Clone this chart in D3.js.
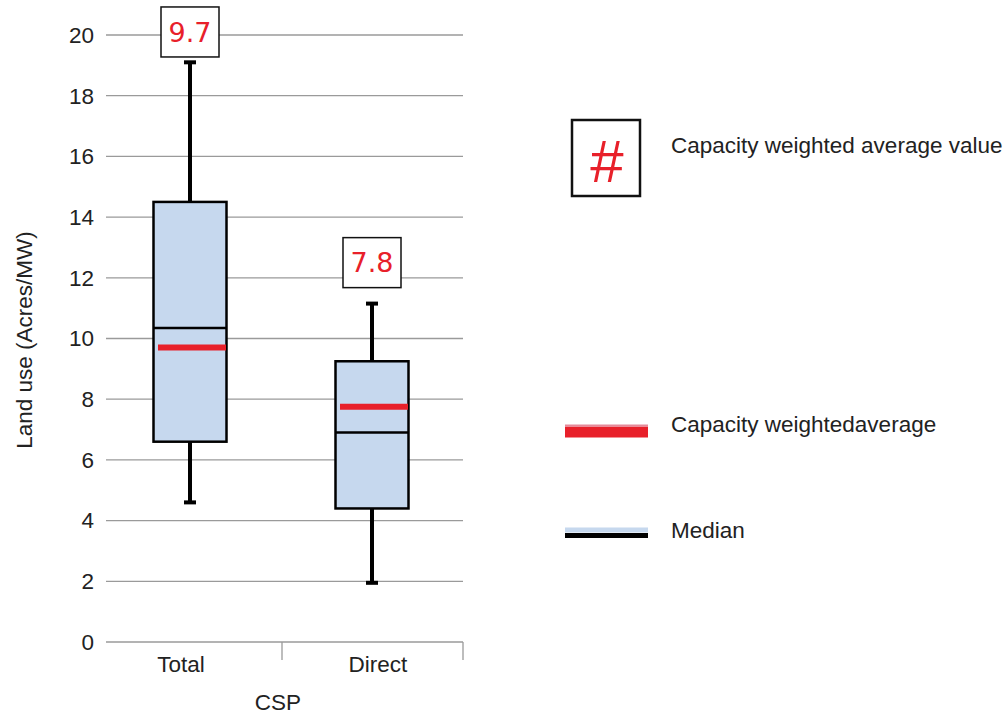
<!DOCTYPE html>
<html>
<head>
<meta charset="utf-8">
<script src="https://cdn.jsdelivr.net/npm/d3@7"></script>
<style>
  body { margin: 0; background: #fff; }
  text { font-family: "Liberation Sans", Arial, sans-serif; }
</style>
</head>
<body>
<div id="chart"></div>
<script>
var categories = ["Total", "Direct"];
var whiskerLow = [4.6, 1.95];
var boxLow = [6.6, 4.4];
var medians = [10.35, 6.9];
var boxHigh = [14.5, 9.25];
var whiskerHigh = [19.1, 11.15];
var weightedAvg = [9.7, 7.75];
var avgLabels = ["9.7", "7.8"];
var avgLabelAt = [20.1, 12.5];
var yTicks = [0, 2, 4, 6, 8, 10, 12, 14, 16, 18, 20];

var width = 1007,
    height = 717;

var svg = d3.select("#chart")
    .append("svg")
    .attr("width", width)
    .attr("height", height);

var y = d3.scaleLinear().domain([0, 20]).range([642, 35]);
var x = d3.scalePoint().domain(categories).range([190, 372]);
var labelX = d3.scalePoint().domain(categories).range([181, 378]);

// gridlines
svg.append("g").selectAll("line")
    .data(yTicks)
    .enter().append("line")
    .attr("x1", 106).attr("x2", 463)
    .attr("y1", function(d) { return y(d); })
    .attr("y2", function(d) { return y(d); })
    .style("stroke", "#9a9a9a")
    .style("stroke-width", 1.3);

// y tick labels
svg.append("g").selectAll("text")
    .data(yTicks)
    .enter().append("text")
    .attr("x", 94)
    .attr("y", function(d) { return y(d); })
    .attr("dy", "0.35em")
    .attr("text-anchor", "end")
    .style("font-size", "22.5px")
    .style("fill", "#222")
    .text(function(d) { return d; });

// x axis separators
svg.append("g").selectAll("line")
    .data([282, 463])
    .enter().append("line")
    .attr("x1", function(d) { return d; })
    .attr("x2", function(d) { return d; })
    .attr("y1", 642).attr("y2", 660)
    .style("stroke", "#9a9a9a")
    .style("stroke-width", 1.3);

svg.append("g").selectAll("text")
    .data(categories)
    .enter().append("text")
    .attr("x", function(d) { return labelX(d); })
    .attr("y", 672)
    .attr("text-anchor", "middle")
    .style("font-size", "22.5px")
    .style("fill", "#222")
    .text(function(d) { return d; });

svg.append("text")
    .attr("x", 278).attr("y", 710)
    .attr("text-anchor", "middle")
    .style("font-size", "22.5px")
    .style("fill", "#222")
    .text("CSP");

svg.append("text")
    .attr("transform", "translate(32,340) rotate(-90)")
    .attr("text-anchor", "middle")
    .style("font-size", "22.5px")
    .style("fill", "#222")
    .text("Land use (Acres/MW)");

// boxes
var g = svg.append("g").selectAll("g")
    .data(categories)
    .enter().append("g");

g.append("line")
    .attr("x1", function(d) { return x(d); })
    .attr("x2", function(d) { return x(d); })
    .attr("y1", function(d, i) { return y(whiskerLow[i]); })
    .attr("y2", function(d, i) { return y(whiskerHigh[i]); })
    .style("stroke", "#000").style("stroke-width", 4);

g.selectAll(".cap")
    .data(function(d, i) { return [{c: d, v: whiskerLow[i]}, {c: d, v: whiskerHigh[i]}]; })
    .enter().append("line")
    .attr("class", "cap")
    .attr("x1", function(d) { return x(d.c) - 6; })
    .attr("x2", function(d) { return x(d.c) + 6; })
    .attr("y1", function(d) { return y(d.v); })
    .attr("y2", function(d) { return y(d.v); })
    .style("stroke", "#000").style("stroke-width", 4);

g.append("rect")
    .attr("x", function(d) { return x(d) - 36.5; })
    .attr("width", 73)
    .attr("y", function(d, i) { return y(boxHigh[i]); })
    .attr("height", function(d, i) { return y(boxLow[i]) - y(boxHigh[i]); })
    .style("fill", "#c6d8ee")
    .style("stroke", "#000").style("stroke-width", 2.5);

g.append("line")
    .attr("x1", function(d) { return x(d) - 36.5; })
    .attr("x2", function(d) { return x(d) + 36.5; })
    .attr("y1", function(d, i) { return y(medians[i]); })
    .attr("y2", function(d, i) { return y(medians[i]); })
    .style("stroke", "#000").style("stroke-width", 2.5);

g.append("line")
    .attr("x1", function(d) { return x(d) - 32; })
    .attr("x2", function(d) { return x(d) + 36; })
    .attr("y1", function(d, i) { return y(weightedAvg[i]); })
    .attr("y2", function(d, i) { return y(weightedAvg[i]); })
    .style("stroke", "#e8202a").style("stroke-width", 6);

// value labels above whiskers
g.append("rect")
    .attr("x", function(d) { return x(d) - 29; })
    .attr("y", function(d, i) { return y(avgLabelAt[i]) - 25; })
    .attr("width", 58).attr("height", 50)
    .style("fill", "#fff")
    .style("stroke", "#111").style("stroke-width", 1.5);

g.append("text")
    .attr("x", function(d) { return x(d); })
    .attr("y", function(d, i) { return y(avgLabelAt[i]); })
    .attr("dy", "0.36em")
    .attr("text-anchor", "middle")
    .style("font-family", "'DejaVu Sans', Verdana, sans-serif")
    .style("font-size", "27px")
    .style("fill", "#e8202a")
    .text(function(d, i) { return avgLabels[i]; });

// legend
var leg = svg.append("g");
leg.append("rect")
    .attr("x", 572).attr("y", 120).attr("width", 68).attr("height", 76)
    .style("fill", "#fff").style("stroke", "#111").style("stroke-width", 2.5);
leg.append("text")
    .attr("x", 607).attr("y", 160).attr("dy", "0.36em")
    .attr("text-anchor", "middle")
    .style("font-size", "60px").style("fill", "#e8202a")
    .text("#");
leg.append("text")
    .attr("x", 671).attr("y", 145).attr("dy", "0.35em")
    .style("font-size", "22.5px").style("fill", "#222")
    .text("Capacity weighted average value");

leg.append("line")
    .attr("x1", 565).attr("x2", 648).attr("y1", 432).attr("y2", 432)
    .style("stroke", "#e8202a").style("stroke-width", 11);
leg.append("line")
    .attr("x1", 565).attr("x2", 648).attr("y1", 425.5).attr("y2", 425.5)
    .style("stroke", "#e58a9a").style("stroke-width", 2);
leg.append("text")
    .attr("x", 671).attr("y", 424).attr("dy", "0.35em")
    .style("font-size", "22.5px").style("fill", "#222")
    .text("Capacity weightedaverage");

leg.append("line")
    .attr("x1", 565).attr("x2", 648).attr("y1", 530).attr("y2", 530)
    .style("stroke", "#c6d8ee").style("stroke-width", 5);
leg.append("line")
    .attr("x1", 565).attr("x2", 648).attr("y1", 535.5).attr("y2", 535.5)
    .style("stroke", "#000").style("stroke-width", 5);
leg.append("text")
    .attr("x", 671).attr("y", 530).attr("dy", "0.35em")
    .style("font-size", "22.5px").style("fill", "#222")
    .text("Median");
</script>
</body>
</html>
